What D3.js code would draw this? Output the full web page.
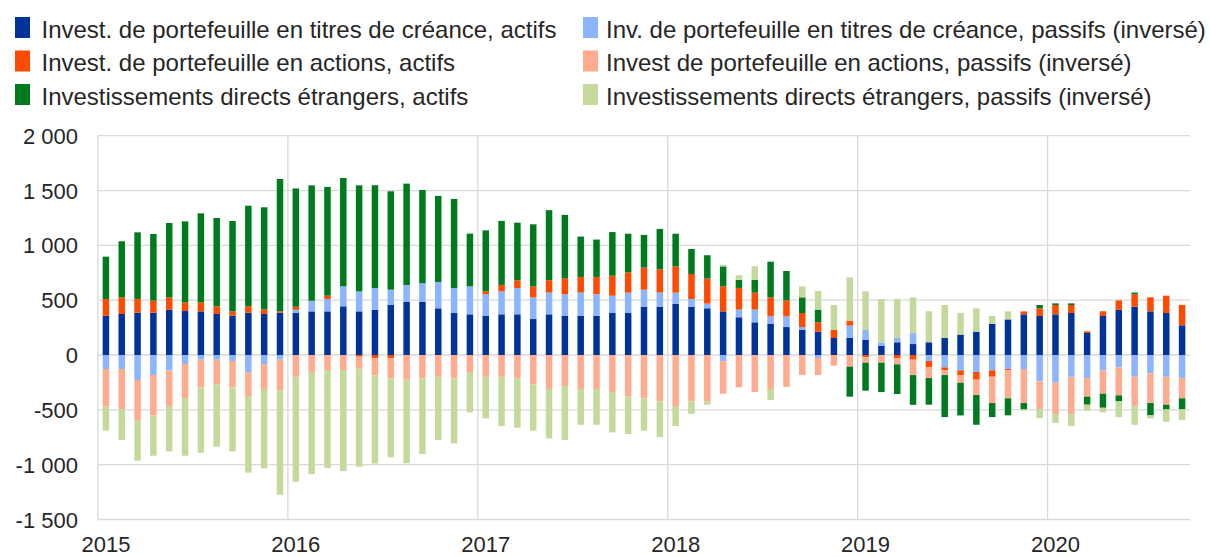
<!DOCTYPE html>
<html>
<head>
<meta charset="utf-8">
<script src="https://cdn.jsdelivr.net/npm/d3@7"></script>
<style>
    body { margin: 0; background: #fff; }
    svg text { font-family: "Liberation Sans", Arial, sans-serif; fill: #262626; }
</style>
</head>
<body>
<script>
// categories: monthly, Jan 2015 - Sep 2020
var months = d3.timeMonth.range(new Date(2015, 0, 1), new Date(2020, 9, 1));
var yearLabels = ["2015", "2016", "2017", "2018", "2019", "2020"];
var yTicks = [-1500, -1000, -500, 0, 500, 1000, 1500, 2000];

// values as plotted (liabilities already inverted)
var debtAssets = [359, 374, 386, 386, 413, 401, 398, 374, 359, 386, 374, 386,
    383, 398, 398, 444, 398, 413, 456, 484, 484, 426, 383, 371,
    356, 371, 371, 328, 371, 356, 356, 356, 383, 383, 441, 441,
    468, 441, 426, 398, 344, 298, 283, 255, 228, 213, 155, 155,
    140, 85, 116, 100, 116, 155, 186, 213, 283, 325, 371, 356,
    371, 383, 201, 356, 413, 441, 398, 383, 271];
var debtLiab = [-128, -128, -228, -182, -140, -82, -43, -43, -55, -158, -85, -43,
    30, 97, 113, 182, 182, 198, 140, 155, 170, 240, 228, 255,
    198, 210, 240, 198, 198, 198, 213, 198, 158, 185, 155, 128,
    100, 70, 43, -55, 70, 116, 70, 97, 27, -27, 0, 113,
    88, 30, 40, 100, -55, -113, -140, -155, -140, -128, -128, -240,
    -252, -198, -210, -140, -113, -198, -167, -198, -210];
var equityAssets = [152, 152, 125, 110, 113, 79, 82, 70, 39, 58, 43, 12,
    27, 0, 30, 0, -15, -30, -30, 0, 0, 0, 0, 0,
    27, 58, 70, 100, 113, 143, 143, 158, 182, 185, 201, 213,
    240, 228, 228, 228, 198, 155, 173, 146, 128, 85, 73, 46,
    -21, 0, -30, -43, -58, -27, -43, -70, -58, -12, 27, 70,
    85, 73, 15, 43, 85, 113, 128, 158, 186];
var equityLiab = [-340, -368, -365, -371, -325, -310, -252, -225, -240, -222, -225, -282,
    -198, -155, -137, -137, -110, -155, -182, -225, -213, -198, -213, -155,
    -198, -198, -213, -268, -310, -283, -310, -310, -338, -380, -395, -423,
    -465, -423, -423, -298, -295, -338, -310, -283, -182, -155, -97, -106,
    -49, -70, -55, -140, -97, -43, -70, -140, -240, -255, -310, -255,
    -286, -340, -170, -213, -255, -268, -271, -255, -185];
var fdiAssets = [386, 511, 608, 608, 678, 739, 812, 806, 824, 918, 930, 1207,
    1079, 1052, 992, 989, 967, 937, 897, 924, 851, 785, 812, 481,
    556, 584, 526, 566, 639, 581, 368, 341, 398, 353, 298, 368,
    298, 228, 213, 182, 73, 116, 325, 268, 143, 116, 0, -274,
    -255, -268, -271, -271, -243, -383, -298, -271, -128, -155, -58, 30,
    15, 15, -73, -128, -55, 15, -113, -43, -100];
var fdiLiab = [-222, -279, -371, -365, -414, -526, -596, -568, -584, -693, -724, -949,
    -958, -931, -894, -921, -894, -805, -721, -763, -690, -577, -593, -368,
    -380, -450, -450, -422, -450, -492, -326, -326, -368, -341, -295, -325,
    -183, -112, -30, 15, 43, 125, -100, -10, 100, 170, 228, 395,
    353, 395, 356, 325, 283, 301, 198, 213, 73, 73, -12, -82,
    -82, -110, -55, -43, -143, -170, -27, -113, -97];

var keys = ["debtAssets", "debtLiab", "equityAssets", "equityLiab", "fdiAssets", "fdiLiab"];
var series = [debtAssets, debtLiab, equityAssets, equityLiab, fdiAssets, fdiLiab];
var names = {
    debtAssets: "Invest. de portefeuille en titres de créance, actifs",
    equityAssets: "Invest. de portefeuille en actions, actifs",
    fdiAssets: "Investissements directs étrangers, actifs",
    debtLiab: "Inv. de portefeuille en titres de créance, passifs (inversé)",
    equityLiab: "Invest de portefeuille en actions, passifs (inversé)",
    fdiLiab: "Investissements directs étrangers, passifs (inversé)"
};
var colors = {
    debtAssets: "#003399", debtLiab: "#8cb4ff",
    equityAssets: "#ff4b00", equityLiab: "#ffac8e",
    fdiAssets: "#007a1e", fdiLiab: "#c5d99c"
};
var legendCols = [["debtAssets", "equityAssets", "fdiAssets"], ["debtLiab", "equityLiab", "fdiLiab"]];

var vizWidth = 1210,
    vizHeight = 557,
    plot = { left: 98, right: 1190, top: 135.7, bottom: 519.5 };

var table = months.map(function (m, i) {
    var row = { i: i };
    keys.forEach(function (k, j) { row[k] = series[j][i]; });
    return row;
});

var stacked = d3.stack()
    .keys(keys)
    .offset(d3.stackOffsetDiverging)(table);

var x = d3.scaleBand()
    .domain(d3.range(months.length))
    .range([plot.left, plot.right])
    .paddingInner(0.59)
    .paddingOuter(0.295);

var y = d3.scaleLinear()
    .domain([-1500, 2000])
    .range([plot.bottom, plot.top]);

var fmt = d3.formatLocale({ decimal: ",", thousands: " ", grouping: [3], currency: ["", " €"], minus: "-" }).format(",d");

var viz = d3.select("body").append("svg")
    .attr("width", vizWidth)
    .attr("height", vizHeight);

// gridlines
var grid = viz.append("g").attr("class", "grid");
grid.selectAll(".hgrid")
    .data(yTicks)
    .enter().append("line")
    .attr("x1", plot.left)
    .attr("x2", plot.right)
    .attr("y1", function (d) { return y(d); })
    .attr("y2", function (d) { return y(d); })
    .style("stroke", "#d9d9d9")
    .style("stroke-width", 1.3);

var yearStart = d3.range(0, months.length, 12);
grid.selectAll(".vgrid")
    .data(yearStart)
    .enter().append("line")
    .attr("x1", function (i) { return x(i) - x.step() * x.paddingInner() / 2; })
    .attr("x2", function (i) { return x(i) - x.step() * x.paddingInner() / 2; })
    .attr("y1", plot.top)
    .attr("y2", plot.bottom)
    .style("stroke", "#d9d9d9")
    .style("stroke-width", 1.3);

// bars
var layers = viz.append("g").attr("class", "bars")
    .selectAll("g")
    .data(stacked)
    .enter().append("g")
    .attr("fill", function (d) { return colors[d.key]; });

layers.selectAll("rect")
    .data(function (d) { return d; })
    .enter().append("rect")
    .attr("x", function (d) { return x(d.data.i); })
    .attr("y", function (d) { return y(Math.max(d[0], d[1])); })
    .attr("width", x.bandwidth())
    .attr("height", function (d) { return Math.abs(y(d[0]) - y(d[1])); });

// y axis labels
viz.append("g").selectAll("text")
    .data(yTicks)
    .enter().append("text")
    .attr("x", 78)
    .attr("y", function (d) { return y(d) + 8; })
    .attr("text-anchor", "end")
    .style("font-size", "22px")
    .text(function (d) { return fmt(d); });

// x axis labels (centred on January)
viz.append("g").selectAll("text")
    .data(yearStart)
    .enter().append("text")
    .attr("x", function (i) { return x(i) + x.bandwidth() / 2; })
    .attr("y", 552)
    .attr("text-anchor", "middle")
    .style("font-size", "22px")
    .text(function (i, j) { return yearLabels[j]; });

// legend
var legend = viz.append("g").attr("id", "legend");
var colX = [{ box: 15, text: 41.5 }, { box: 583, text: 606 }];
var rowTop = [17, 50.5, 84];
legendCols.forEach(function (col, c) {
    col.forEach(function (k, r) {
        legend.append("rect")
            .attr("x", colX[c].box)
            .attr("y", rowTop[r])
            .attr("width", 15)
            .attr("height", 21)
            .style("fill", colors[k]);
        legend.append("text")
            .attr("x", colX[c].text)
            .attr("y", rowTop[r] + 20.5)
            .style("font-size", "24px")
            .text(names[k]);
    });
});
</script>
</body>
</html>
